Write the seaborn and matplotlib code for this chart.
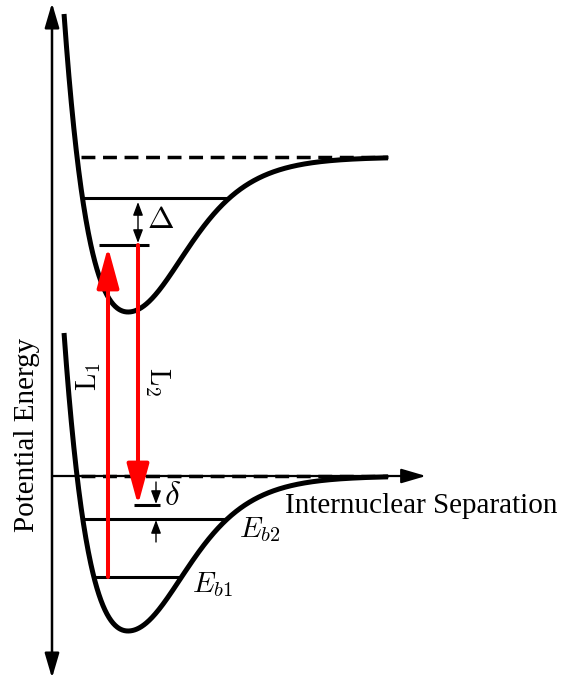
import numpy as np
import pandas as pd
import matplotlib
matplotlib.use("Agg")
import matplotlib.pyplot as plt
import seaborn as sns

sns.set_theme(style="white")
plt.rcParams["font.family"] = ["Liberation Serif", "DejaVu Serif"]
plt.rcParams["mathtext.fontset"] = "cm"
plt.rcParams["text.color"] = "black"

# ---- potential wells (arbitrary energy / separation units) ----
well_names = ["ground", "excited"]
asymptote = [0.0, 319.0]          # dissociation limits
well_depth = [155.0, 155.0]
r_eq = [128.0, 128.0]             # equilibrium separations
wall_a = [0.0136, 0.0136]         # Morse stiffness of the inner wall
tail_w = [79.0, 79.0]             # width of the outer (long-range) slope
wall_top = 143.0                  # inner wall drawn up to this height above the limit
r_max = 388.0

# ---- energy levels ----
E_b1 = -101.0                      # deeper bound state of ground well
E_b2 = -43.0                       # shallower bound state of ground well
delta = 14.0                       # two-photon detuning
excited_level = 278.0              # bound state of excited well
Delta = 47.0                       # one-photon detuning

# ---- layout (same units) ----
L1_x = 108.0
L2_x = 138.0
delta_arrow_x = 156.0


def potential(r, k):
    d = r - r_eq[k]
    inner = well_depth[k] * ((1 - np.exp(-wall_a[k] * d)) ** 2 - 1)
    outer = -well_depth[k] / np.cosh(d / tail_w[k]) ** 2
    return asymptote[k] + np.where(d < 0, inner, outer)


def inner_point(E, k):
    f = (E - asymptote[k]) / well_depth[k]
    return r_eq[k] - np.log(1 + np.sqrt(1 + f)) / wall_a[k]


def outer_point(E, k):
    f = (E - asymptote[k]) / well_depth[k]
    return r_eq[k] + tail_w[k] * np.arccosh(1 / np.sqrt(-f))


frames = []
for k, name in enumerate(well_names):
    r = np.linspace(inner_point(asymptote[k] + wall_top, k), r_max, 800)
    frames.append(pd.DataFrame({"r": r, "V": potential(r, k), "well": name}))
curves = pd.concat(frames, ignore_index=True)

fig = plt.figure(figsize=(5.61, 6.81), dpi=100)
ax = fig.add_axes([0, 0, 1, 1])
ax.set_xlim(0, 561)
ax.set_ylim(-205, 476)
ax.axis("off")

# coordinate axes with arrow heads
axis_x0 = 52.0
ax.annotate("", xy=(axis_x0, 473), xytext=(axis_x0, -202),
            arrowprops=dict(arrowstyle="<|-|>,head_length=0.75,head_width=0.22",
                            lw=1.8, color="black", shrinkA=0, shrinkB=0,
                            mutation_scale=20))
ax.annotate("", xy=(426, 0), xytext=(axis_x0, 0),
            arrowprops=dict(arrowstyle="-|>,head_length=0.75,head_width=0.22",
                            lw=1.6, color="black", shrinkA=0, shrinkB=0,
                            mutation_scale=20))

# dissociation limits
for k in range(2):
    x_start = inner_point(asymptote[k], k) + 4
    ax.plot([x_start, r_max], [asymptote[k], asymptote[k]], color="black",
            lw=2.5, ls=(0, (4.0, 2.2)), zorder=2)

# potential curves
sns.lineplot(data=curves, x="r", y="V", hue="well", palette=["black", "black"],
             legend=False, lw=3.6, ax=ax, sort=False, zorder=3,
             solid_capstyle="butt")

# bound levels spanning the wells
for E, k in [(E_b1, 0), (E_b2, 0), (excited_level, 1)]:
    ax.plot([inner_point(E, k), outer_point(E, k)], [E, E], color="black", lw=2.2,
            solid_capstyle="butt", zorder=2)

# virtual levels
upper_virtual = excited_level - Delta
final_level = E_b2 + delta
ax.plot([L1_x - 9, L2_x + 11], [upper_virtual, upper_virtual], color="black", lw=2.2,
        solid_capstyle="butt")
ax.plot([L2_x - 4, L2_x + 22], [final_level, final_level], color="black", lw=2.2,
        solid_capstyle="butt")

# laser transitions
laser = dict(arrowstyle="-|>,head_length=1.25,head_width=0.34", lw=2.9,
             color="#ff0000", shrinkA=0, shrinkB=0, mutation_scale=20)
ax.annotate("", xy=(L1_x, upper_virtual - 2), xytext=(L1_x, E_b1), arrowprops=laser, zorder=4)
ax.annotate("", xy=(L2_x, final_level), xytext=(L2_x, upper_virtual), arrowprops=laser, zorder=4)

# detuning markers
thin = dict(arrowstyle="<|-|>,head_length=0.4,head_width=0.15", lw=1.0,
            color="black", shrinkA=0, shrinkB=0, mutation_scale=20)
ax.annotate("", xy=(L2_x, excited_level - 4), xytext=(L2_x, upper_virtual + 2), arrowprops=thin)
one = dict(arrowstyle="-|>,head_length=0.4,head_width=0.15", lw=1.0,
           color="black", shrinkA=0, shrinkB=0, mutation_scale=20)
ax.annotate("", xy=(delta_arrow_x, final_level + 1), xytext=(delta_arrow_x, final_level + 23),
            arrowprops=one)
ax.annotate("", xy=(delta_arrow_x, E_b2 - 1), xytext=(delta_arrow_x, E_b2 - 23),
            arrowprops=one)

# labels
ax.text(147, (excited_level + upper_virtual) / 2 + 1, r"$\Delta$", fontsize=23,
        ha="left", va="center")
ax.text(164, final_level + 8, r"$\delta$", fontsize=24, ha="left", va="center")
ax.text(L1_x - 19, 99, r"$\mathrm{L}_1$", fontsize=20, rotation=90, ha="center", va="center")
ax.text(L2_x + 19, 94, r"$\mathrm{L}_2$", fontsize=20, rotation=270, ha="center", va="center")
ax.text(239, E_b2 - 11, r"$E_{b2}$", fontsize=21, ha="left", va="center")
ax.text(192, E_b1 - 8, r"$E_{b1}$", fontsize=21, ha="left", va="center")
ax.text(285, -37, "Internuclear Separation", fontsize=21, ha="left", va="baseline")
ax.text(27, 41, "Potential Energy", fontsize=21, rotation=90, ha="center", va="center")

fig.savefig("out.png", dpi=100)
